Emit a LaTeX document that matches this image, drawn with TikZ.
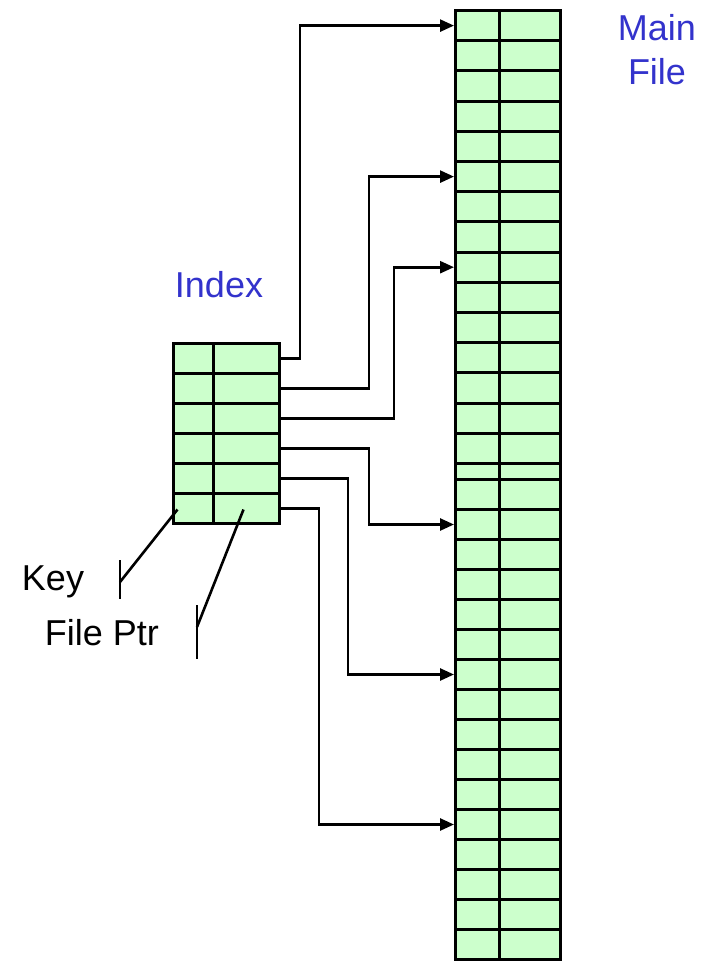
\documentclass[tikz,border=0pt]{standalone}
\usepackage{fontspec}
\setmainfont{Liberation Sans}
\usetikzlibrary{arrows.meta}
\definecolor{cellgreen}{HTML}{CCFFCC}
\definecolor{labelblue}{HTML}{3333CC}
\tikzset{
  cell/.style={draw=black, fill=cellgreen, line width=3pt, inner sep=0pt, anchor=north west},
  link/.style={line width=2.6pt, -{Triangle[length=14pt,width=12pt]}},
  tick/.style={line width=2.6pt},
  lbl/.style={font=\fontsize{36}{44}\selectfont, inner sep=0pt}
}
\begin{document}
\begin{tikzpicture}[x=1pt,y=-1pt]
\useasboundingbox (0,0) rectangle (711,961);
% index
\foreach \i in {1,...,6}{
  \pgfmathsetmacro{\yy}{342+30*(\i-1)}
  \node[cell, minimum width=40pt, minimum height=30pt] (k\i) at (172,\yy) {};
  \node[cell, minimum width=66pt, minimum height=30pt] (p\i) at (212,\yy) {};
}
% main file
\foreach \i in {1,...,15}{
  \pgfmathsetmacro{\yy}{9+30.2*(\i-1)}
  \node[cell, minimum width=44pt, minimum height=30.2pt] (m\i) at (454,\yy) {};
  \node[cell, minimum width=61pt, minimum height=30.2pt] (n\i) at (498,\yy) {};
}
\node[cell, minimum width=44pt, minimum height=16pt] (m16) at (454,462) {};
\node[cell, minimum width=61pt, minimum height=16pt] (n16) at (498,462) {};
\foreach \i in {17,...,32}{
  \pgfmathsetmacro{\yy}{478+30*(\i-17)}
  \node[cell, minimum width=44pt, minimum height=30pt] (m\i) at (454,\yy) {};
  \node[cell, minimum width=61pt, minimum height=30pt] (n\i) at (498,\yy) {};
}
% pointers
\draw[link] (p1.east) -- ++(19,0) |- (m1.west);
\draw[link] (p2.east) -- ++(88,0) |- (m6.west);
\draw[link] (p3.east) -- ++(113,0) |- (m9.west);
\draw[link] (p4.east) -- ++(88,0) |- (m18.west);
\draw[link] (p5.east) -- ++(67,0) |- (m23.west);
\draw[link] (p6.east) -- ++(38,0) |- (m28.west);
% labels
\node[lbl, text=labelblue] (idx) at (219,285) {Index};
\node[lbl, text=labelblue, align=center] (mainf) at (657,50) {Main\\File};
\node[lbl] (key) at (53,582) {Key};
\node[lbl] (fptr) at (102,633) {File Ptr};
\draw[tick] (120,560) -- (120,599);
\draw[tick] (120,582) -- ([shift={(-16,1)}]k6.center);
\draw[tick] (197,605) -- (197,659);
\draw[tick] (197,627) -- ([shift={(-3,1)}]p6.center);
\end{tikzpicture}
\end{document}
